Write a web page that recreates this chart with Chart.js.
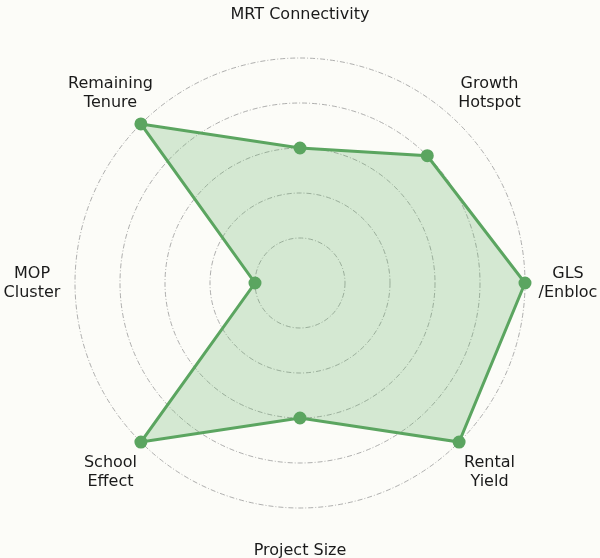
<!DOCTYPE html>
<html>
<head>
<meta charset="utf-8">
<script src="https://cdn.jsdelivr.net/npm/chart.js@4/dist/chart.umd.min.js"></script>
<style>
  html, body { margin: 0; padding: 0; background: #fcfcf8; }
  #chart-container { width: 600px; height: 558px; }
</style>
</head>
<body>
<div id="chart-container"><canvas id="chart"></canvas></div>
<script>
// axes, clockwise from the top
const categories = [
    ["MRT Connectivity"],
    ["Growth", "Hotspot"],
    ["GLS", "/Enbloc"],
    ["Rental", "Yield"],
    ["Project Size"],
    ["School", "Effect"],
    ["MOP", "Cluster"],
    ["Remaining", "Tenure"]
];
const scores = [3, 4, 5, 5, 3, 5, 1, 5];
const scaleMax = 5;

// labels centred on a ring outside the grid, like the original
const centredLabels = {
    id: "centredLabels",
    afterDraw(chart) {
        const scale = chart.scales.r;
        const ctx = chart.ctx;
        ctx.save();
        ctx.font = "16px 'DejaVu Sans'";
        ctx.fillStyle = "#1a1a1a";
        ctx.textAlign = "center";
        ctx.textBaseline = "middle";
        const lineH = 19;
        categories.forEach((lines, i) => {
            const p = scale.getPointPosition(i, scale.drawingArea + 43);
            const top = p.y - (lines.length - 1) * lineH / 2;
            lines.forEach((t, j) => ctx.fillText(t, p.x, top + j * lineH));
        });
        ctx.restore();
    }
};

const ctx = document.getElementById("chart").getContext("2d");

new Chart(ctx, {
    type: "radar",
    data: {
        labels: categories,
        datasets: [{
            data: scores,
            borderColor: "#5ba560",
            backgroundColor: "rgba(91, 170, 96, 0.25)",
            pointBackgroundColor: "#5ba560",
            pointBorderColor: "#5ba560",
            pointRadius: 5,
            borderWidth: 3,
            fill: true,
            clip: false
        }]
    },
    options: {
        responsive: true,
        maintainAspectRatio: false,
        animation: false,
        layout: {
            padding: { top: 58, bottom: 50, left: 1, right: 0 }
        },
        plugins: {
            legend: { display: false },
            tooltip: { enabled: false }
        },
        scales: {
            r: {
                min: 0,
                max: scaleMax,
                ticks: { display: false, stepSize: 1 },
                pointLabels: { display: false },
                angleLines: { display: false },
                grid: {
                    circular: true,
                    color: "#9a9a9a",
                    lineWidth: 0.8
                },
                border: {
                    dash: [5, 2, 1, 2]
                }
            }
        }
    },
    plugins: [centredLabels]
});
</script>
</body>
</html>
